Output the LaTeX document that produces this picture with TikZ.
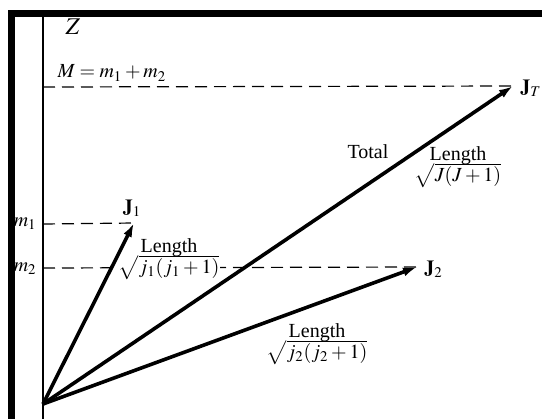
\documentclass[tikz,border=0pt]{standalone}
\usepackage{mathptmx}
\usepackage{fontspec}
\setmainfont{Liberation Serif}
\usetikzlibrary{arrows.meta}
\begin{document}
\begin{tikzpicture}[x=0.5pt,y=-0.5pt,
  vec/.style={line width=1.8pt,-{Latex[length=7pt,width=4.5pt]}},
  proj/.style={line width=0.6pt,dash pattern=on 6pt off 3.5pt},
  lbl/.style={inner sep=0pt,font=\fontsize{10}{11}\selectfont},
  lenlbl/.style={inner sep=0pt,align=center,font=\fontsize{10}{11.5}\selectfont}]
\useasboundingbox (0,0) rectangle (542,419);
% axis
\coordinate (top) at (43,17);
\coordinate (bot) at (43,419);
\draw[line width=0.6pt] (top) -- (bot);
% points
\coordinate (O) at (43,404);
\coordinate (J1) at (134,223);
\coordinate (J2) at (417,267);
\coordinate (JT) at (513,86);
\coordinate (aM) at (43,87);
\coordinate (a1) at (43,224);
\coordinate (a2) at (43,268);
% dashed projections
\draw[proj] (aM) -- (JT);
\draw[proj] (a1) -- (J1);
\draw[proj] (a2) -- (J2);
% length labels
\node[lenlbl,fill=white,inner sep=0.5pt] (L1) at (169,259) {Length\\[-1pt]$\sqrt{j_1(j_1+1)}$};
\node[lenlbl] (LT) at (458,167) {Length\\[-1pt]$\sqrt{J(J+1)}$};
\node[lenlbl] (L2) at (317,344) {Length\\[-1pt]$\sqrt{j_2(j_2+1)}$};
% vectors
\draw[vec] (O) -- (J1);
\draw[vec] (O) -- (J2);
\draw[vec] (O) -- (JT);
% labels
\node[lbl,font=\fontsize{12}{13}\selectfont] (Z) at (73,27) {$Z$};
\node[lbl] (M) at (112,73) {$M=m_1+m_2$};
\node[lbl,anchor=east] (m1) at (37,224) {$m_1$};
\node[lbl,anchor=east] (m2) at (37,269) {$m_2$};
\node[lbl] (lJ1) at (132,208) {$\mathbf{J}_1$};
\node[lbl,anchor=west] (lJ2) at (424,269) {$\mathbf{J}_2$};
\node[lbl,anchor=west] (lJT) at (520,88) {$\mathbf{J}_T$};
\node[lbl] (tot) at (368,152) {Total};
% frame bars
\fill (8,10) rectangle (542,17);
\fill (8,10) rectangle (15,419);
\end{tikzpicture}
\end{document}
